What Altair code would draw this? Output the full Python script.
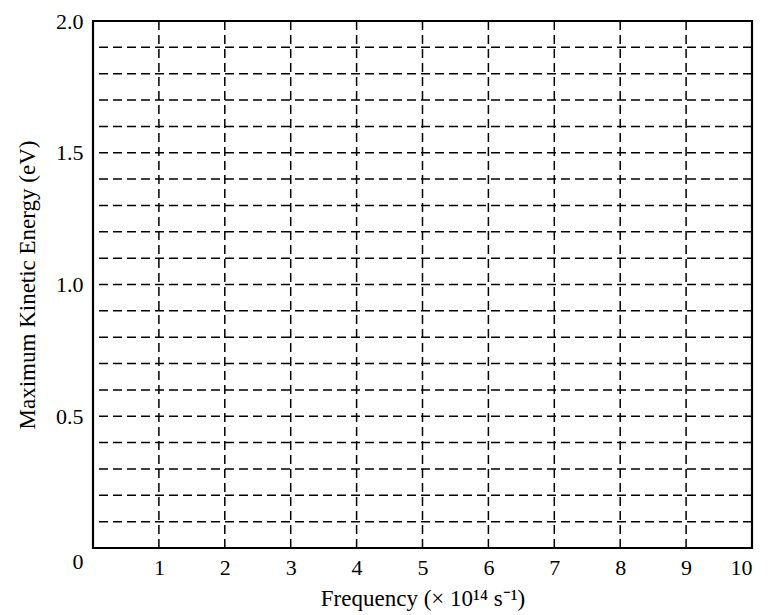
import altair as alt
import pandas as pd

# grid positions and axis labels
x_grid = [1, 2, 3, 4, 5, 6, 7, 8, 9]
y_grid = [0.1, 0.2, 0.3, 0.4, 0.5, 0.6, 0.7, 0.8, 0.9, 1.0,
          1.1, 1.2, 1.3, 1.4, 1.5, 1.6, 1.7, 1.8, 1.9]
x_ticks = [1, 2, 3, 4, 5, 6, 7, 8, 9, 10]
y_ticks = [0, 0.5, 1.0, 1.5, 2.0]

x_title = "Frequency (× 10¹⁴ s⁻¹)"
y_title = "Maximum Kinetic Energy (eV)"

FONT = "Liberation Serif"

xs = alt.Scale(domain=[0, 10], nice=False)
ys = alt.Scale(domain=[0, 2.0], nice=False)

x_axis = alt.Axis(values=x_ticks, grid=False, ticks=False, domain=False,
                  labelFont=FONT, labelFontSize=22, labelColor="black",
                  labelPadding=9, labelAngle=0,
                  title=x_title, titleFont=FONT, titleFontSize=23,
                  titleFontWeight="normal", titleColor="black", titlePadding=9)
y_axis = alt.Axis(values=y_ticks, grid=False, ticks=False, domain=False,
                  labelFont=FONT, labelFontSize=22, labelColor="black",
                  labelPadding=10,
                  labelExpr="datum.value == 0 ? '0' : format(datum.value, '.1f')",
                  labelBaseline={"condition": {"test": "datum.value == 0", "value": "top"}, "value": "middle"},
                  labelOffset={"condition": {"test": "datum.value == 0", "value": 3}, "value": 0},
                  title=y_title, titleFont=FONT, titleFontSize=23,
                  titleFontWeight="normal", titleColor="black", titlePadding=16)

vdf = pd.DataFrame({"x": x_grid})
hdf = pd.DataFrame({"y": y_grid})

vlines = alt.Chart(vdf).mark_rule(color="black", strokeWidth=1.5, strokeDash=[9, 5]).encode(
    x=alt.X("x:Q", scale=xs, axis=x_axis)
)
hlines = alt.Chart(hdf).mark_rule(color="black", strokeWidth=1.5, strokeDash=[9, 5]).encode(
    y=alt.Y("y:Q", scale=ys, axis=y_axis)
)

chart = alt.layer(vlines, hlines).properties(
    width=659, height=527,
    autosize="none",
    padding={"left": 85, "top": 13, "right": 10, "bottom": 67},
    background="white",
).configure_view(stroke="black", strokeWidth=2.2)

chart.save("out.html", embed_options={"renderer": "svg", "actions": False})
